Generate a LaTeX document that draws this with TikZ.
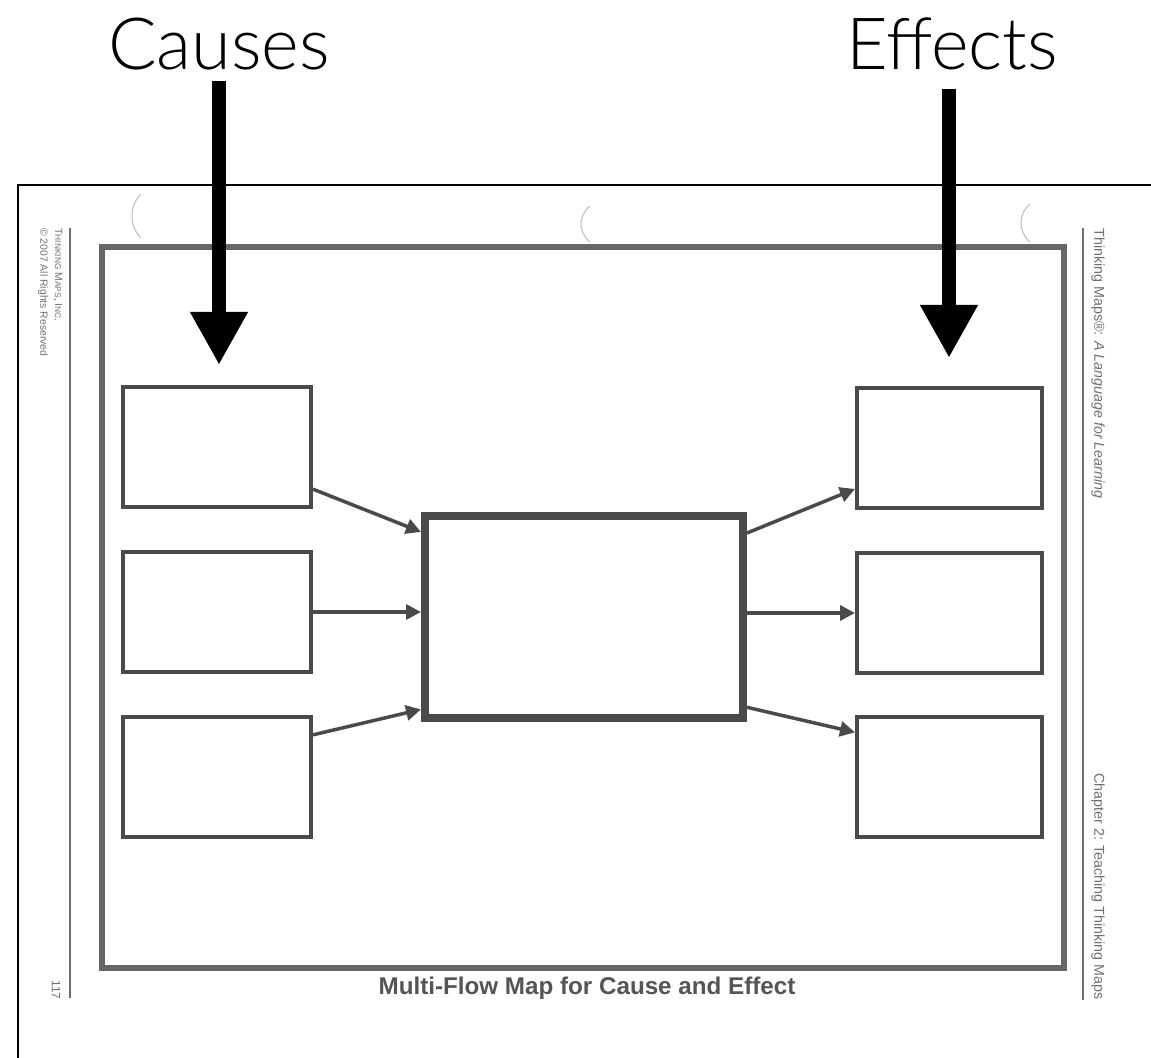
\documentclass[tikz,border=0pt]{standalone}
\usepackage{fontspec}
\setmainfont{Liberation Sans}
\newfontfamily\headfont{Lato}[UprightFont=* Light]
\usetikzlibrary{arrows.meta,calc}
\definecolor{boxgray}{HTML}{4A4A4A}
\definecolor{framegray}{HTML}{666666}
\definecolor{textgray}{HTML}{555555}
\definecolor{sidegray}{HTML}{707070}
\definecolor{arcgray}{HTML}{BBBBBB}
\tikzset{
  sidebox/.style={draw=boxgray, line width=2pt, minimum height=60pt, inner sep=0pt, fill=white},
  causebox/.style={sidebox, minimum width=94pt},
  effectbox/.style={sidebox, minimum width=92.5pt},
  mainbox/.style={draw=boxgray, line width=4pt, minimum width=159pt, minimum height=101pt, inner sep=0pt},
  flow/.style={draw=boxgray, line width=1.75pt, -{Triangle[length=7.5pt,width=7.5pt]}},
  bigarrow/.style={line width=7pt, draw=black, -{Triangle[length=26.5pt,width=27pt]}},
  headtext/.style={font=\headfont\fontsize{36}{40}\selectfont, inner sep=0pt, anchor=base},
  sidetext/.style={font=\fontsize{7.15}{8}\selectfont, text=sidegray, inner sep=0pt, rotate=-90},
  lefttext/.style={font=\fontsize{5.2}{6}\selectfont, text=sidegray, inner sep=0pt, rotate=-90},
  arcline/.style={draw=arcgray, line width=0.5pt},
}
\begin{document}
\begin{tikzpicture}[x=0.5pt,y=-0.5pt]
\useasboundingbox (0,0) rectangle (1151,1058);
\fill[white] (0,0) rectangle (1151,1058);
% outer black frame
\draw[line width=1.25pt] (18,1070) -- (18,185) -- (1170,185);
% binder arcs
\draw[arcline] (141,194) .. controls (129,206) and (129,226) .. (141,238);
\draw[arcline] (590,206) .. controls (578,216) and (578,232) .. (590,242);
\draw[arcline] (1030,204) .. controls (1018,214) and (1018,232) .. (1030,242);
% gray page frame
\draw[framegray, line width=3pt] (102,247) rectangle (1064,968);
\node[font=\bfseries\fontsize{12.1}{14}\selectfont, text=textgray, inner sep=0pt] (title) at (587,988) {Multi-Flow Map for Cause and Effect};
% side rules
\draw[sidegray, line width=1pt] (70,228) -- (70,998);
\draw[sidegray, line width=1.2pt] (1083,228) -- (1083,1000);
% side texts
\node[lefttext, anchor=west] (pub) at (58,228) {T{\fontsize{4.2}{5}\selectfont HINKING} M{\fontsize{4.2}{5}\selectfont APS}, I{\fontsize{4.2}{5}\selectfont NC}.};
\node[lefttext, anchor=west] (copy) at (43,228) {© 2007 All Rights Reserved};
\node[lefttext, font=\fontsize{6}{7}\selectfont] (page) at (56,990) {117};
\node[sidetext, anchor=west] (book) at (1098,228) {Thinking Maps®: \textit{A Language for Learning}};
\node[sidetext, anchor=east] (chap) at (1098,1000) {Chapter 2: Teaching Thinking Maps};
% boxes
\node[causebox] (c1) at (217,447) {};
\node[causebox] (c2) at (217,612) {};
\node[causebox] (c3) at (217,777) {};
\node[mainbox] (m) at (584,617) {};
\node[effectbox] (e1) at (949.5,448) {};
\node[effectbox] (e2) at (949.5,613) {};
\node[effectbox] (e3) at (949.5,777) {};
% flows in
\draw[flow] ($(c1.south east)!0.16!(c1.north east)$) -- ($(m.north west)!0.095!(m.south west)$);
\draw[flow] (c2.east) -- (c2.east -| m.west);
\draw[flow] ($(c3.north east)!0.16!(c3.south east)$) -- ($(m.north west)!0.94!(m.south west)$);
% flows out
\draw[flow] ($(m.north east)!0.10!(m.south east)$) -- ($(e1.north west)!0.83!(e1.south west)$);
\draw[flow] (e2.west -| m.east) -- (e2.west);
\draw[flow] ($(m.north east)!0.93!(m.south east)$) -- ($(e3.north west)!0.14!(e3.south west)$);
% headings and big arrows
\node[headtext] (causes) at (219,70) {Causes};
\node[headtext] (effects) at (952,70) {Effects};
\coordinate (ctip) at (219,365);
\coordinate (etip) at (949,358);
\draw[bigarrow] ([yshift=-5pt]causes.south) -- (ctip);
\draw[bigarrow] ([yshift=-9pt]effects.south -| etip) -- (etip);
\end{tikzpicture}
\end{document}
